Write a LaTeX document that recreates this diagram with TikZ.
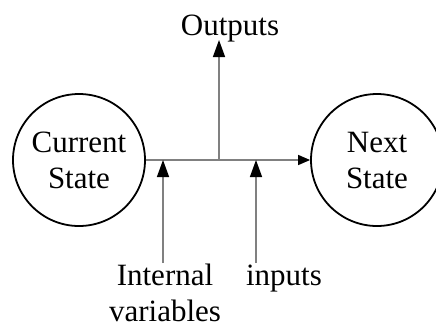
\documentclass[tikz,border=0pt]{standalone}
\usepackage{fontspec}
\setmainfont{Liberation Serif}
\usetikzlibrary{arrows.meta}
\tikzset{
  font=\fontsize{31}{36}\selectfont,
  state/.style={draw=black, line width=1.8pt, circle, minimum size=132pt, inner sep=0pt, align=center},
  conn/.style={draw=black!50, line width=1.4pt},
  bigtip/.style={conn, -{Triangle[length=17pt, width=12pt, color=black]}},
  smalltip/.style={conn, -{Triangle[length=12pt, width=10pt, color=black]}},
  lab/.style={inner sep=0pt, align=center},
}
\begin{document}
\begin{tikzpicture}[x=1pt,y=-1pt]
\useasboundingbox (0,0) rectangle (436,327);
% the two states
\node[state] (cur) at (79,160) {Current\\State};
\node[state] (nxt) at (377,160) {Next\\State};
% labels
\node[lab, anchor=base] (out) at (230,35) {Outputs};
\node[lab, anchor=north] (iv) at (165,264) {Internal\\variables};
\node[lab, anchor=base] (inp) at (284,285) {inputs};
% junctions on the transition line
\coordinate (j) at (219,160);
\coordinate (otip) at (219,40);
\coordinate (ivtop) at (163,160);
\coordinate (ivbot) at (163,263);
\coordinate (intop) at (256,160);
\coordinate (inbot) at (256,263);
% connectors
\draw[smalltip] (cur.east) -- (nxt.west);
\draw[bigtip] (j) -- (otip);
\draw[bigtip] (ivbot) -- (ivtop);
\draw[bigtip] (inbot) -- (intop);
\end{tikzpicture}
\end{document}
